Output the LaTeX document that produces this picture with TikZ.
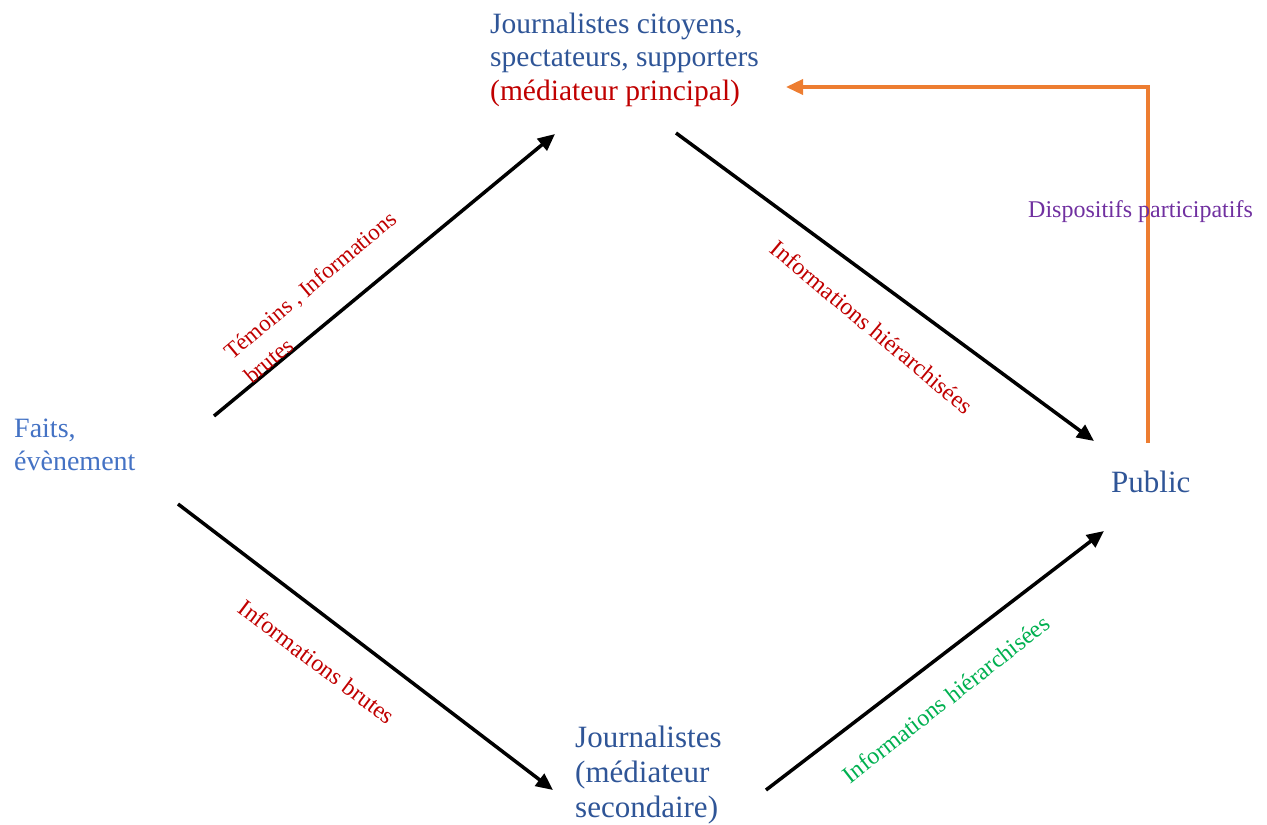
\documentclass[tikz,border=0pt]{standalone}
\usepackage{fontspec}
\setmainfont{Liberation Serif}
\usetikzlibrary{arrows.meta}
\definecolor{nodeblue}{HTML}{2F5597}
\definecolor{lightblue}{HTML}{4472C4}
\definecolor{darkred}{HTML}{C00000}
\definecolor{orng}{HTML}{ED7D31}
\definecolor{purp}{HTML}{7030A0}
\definecolor{grn}{HTML}{00B050}
\tikzset{
  mainlabel/.style={inner sep=0pt, align=left, font=\fontsize{29.5}{33.5}\selectfont, text=nodeblue},
  edgelabel/.style={inner sep=0pt, font=\fontsize{24}{31}\selectfont},
  flow/.style={line width=3.5pt, -{Triangle[length=17pt,width=15pt]}},
  feedback/.style={line width=3.5pt, draw=orng, -{Triangle[length=17pt,width=15pt]}},
}
\begin{document}
\begin{tikzpicture}[x=1pt,y=-1pt]
\useasboundingbox (0,0) rectangle (1267,825);
% nodes (anchor = baseline of the last line)
\node[mainlabel, anchor=base west] (top) at (490,100)
  {Journalistes citoyens,\\ spectateurs, supporters\\ \textcolor{darkred}{(médiateur principal)}};
\node[mainlabel, anchor=base west, text=lightblue, font=\fontsize{28}{33}\selectfont] (faits) at (14,470)
  {Faits,\\ évènement};
\node[mainlabel, anchor=base west, font=\fontsize{31}{35}\selectfont] (public) at (1111,492) {Public};
\node[mainlabel, anchor=base west, font=\fontsize{31}{35}\selectfont] (bottom) at (575,817)
  {Journalistes\\ (médiateur\\ secondaire)};
% connector endpoints
\coordinate (a1) at (214,416);
\coordinate (a2) at (555,134);
\coordinate (b1) at (676,133);
\coordinate (b2) at (1094,441);
\coordinate (c1) at (178,504);
\coordinate (c2) at (553,790);
\coordinate (d1) at (766,790);
\coordinate (d2) at (1104,531);
\coordinate (e1) at (1148,443);
\coordinate (e2) at (1148,87);
\coordinate (e3) at (786,87);
% connectors
\draw[flow] (a1) -- (a2);
\draw[flow] (b1) -- (b2);
\draw[flow] (c1) -- (c2);
\draw[flow] (d1) -- (d2);
\draw[feedback] (e1) -- (e2) -- (e3);
% edge labels
\node[edgelabel, text=darkred, align=left, rotate=40, font=\fontsize{23}{31}\selectfont] (l1) at (320,297)
  {Témoins , Informations\\ brutes};
\node[edgelabel, text=darkred, rotate=-40] (l2) at (872,327) {Informations hiérarchisées};
\node[edgelabel, text=darkred, rotate=-37] (l3) at (317,662) {Informations brutes};
\node[edgelabel, text=grn, rotate=38] (l4) at (946,699) {Informations hiérarchisées};
\node[edgelabel, text=purp, anchor=base west] (l5) at (1028,217) {Dispositifs participatifs};
\end{tikzpicture}
\end{document}
